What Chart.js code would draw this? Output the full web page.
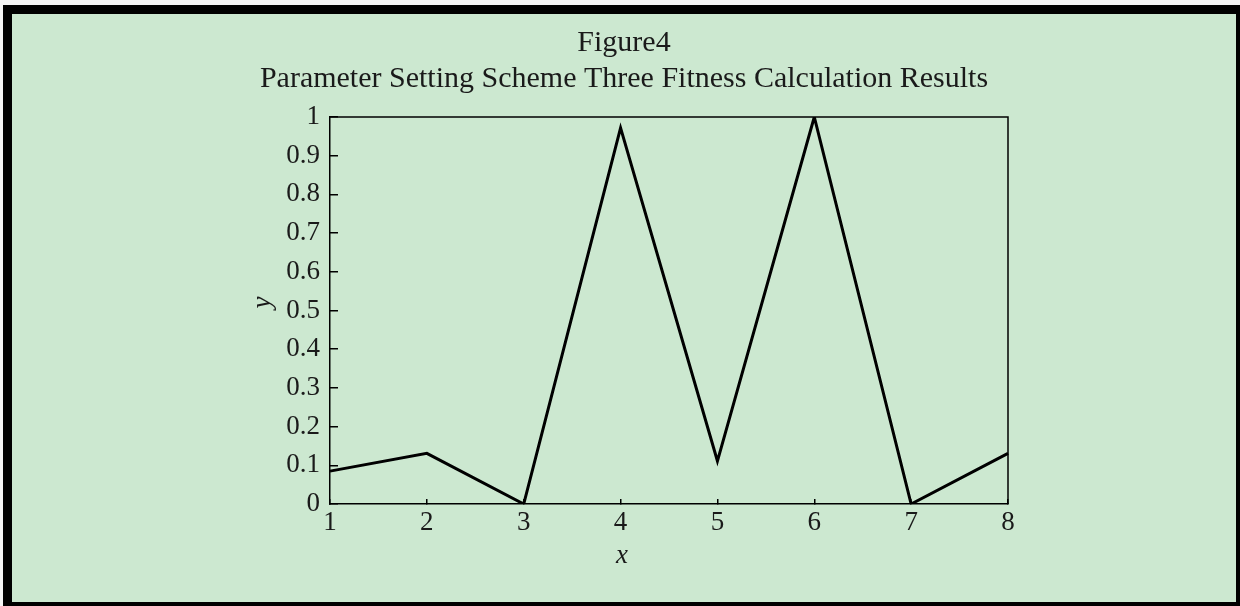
<!DOCTYPE html>
<html>
<head>
<meta charset="utf-8">
<title>Figure4</title>
<script src="https://cdn.jsdelivr.net/npm/chart.js@4/dist/chart.umd.min.js"></script>
<style>
  html, body { margin: 0; padding: 0; background: #f4f4f4; overflow: hidden; }
  #frame {
    position: absolute; left: 3px; top: 5px;
    width: 1242px; height: 606px;
    box-sizing: border-box;
    border: 9px solid #000;
    background: #cce8d0;
  }
  #myChart { position: absolute; left: 0; top: 0; }
</style>
</head>
<body>
<div id="frame"></div>
<canvas id="myChart" width="1240" height="606"></canvas>
<script>
// values
const xLabels = ['1', '2', '3', '4', '5', '6', '7', '8'];
const fitness = [0.085, 0.131, 0, 0.972, 0.111, 1.0, 0, 0.131];
const titleLines = ['Figure4', 'Parameter Setting Scheme Three Fitness Calculation Results'];
const xTitle = 'x';
const yTitle = 'y';

const ink = '#1a1a1a';
const serif = "'Liberation Serif', 'Times New Roman', serif";

// top + right edges of the axes box, plus the two axis names
const boxPlugin = {
  id: 'box',
  afterDraw(chart) {
    const { ctx, chartArea: a } = chart;
    ctx.save();
    ctx.strokeStyle = '#000';
    ctx.lineWidth = 1.5;
    ctx.beginPath();
    ctx.moveTo(a.left, a.top);
    ctx.lineTo(a.right, a.top);
    ctx.lineTo(a.right, a.bottom);
    ctx.stroke();

    ctx.fillStyle = ink;
    ctx.font = "italic 27px " + serif;
    ctx.textAlign = 'center';
    ctx.textBaseline = 'middle';
    ctx.fillText(xTitle, chart.width / 2 + 2, a.bottom + 52);

    ctx.translate(a.left - 67, (a.top + a.bottom) / 2 - 8);
    ctx.rotate(-Math.PI / 2);
    ctx.fillText(yTitle, 0, 0);
    ctx.restore();
  }
};

const config = {
  type: 'line',
  data: {
    labels: xLabels,
    datasets: [{
      data: fitness,
      borderColor: '#000',
      borderWidth: 3,
      pointRadius: 0,
      tension: 0
    }]
  },
  options: {
    responsive: false,
    animation: false,
    layout: { padding: { left: 240, right: 232, top: 0, bottom: 0 } },
    plugins: {
      legend: { display: false },
      tooltip: { enabled: false },
      title: {
        display: true,
        text: titleLines,
        color: ink,
        font: { family: serif, size: 30, weight: 'normal', lineHeight: 1.2 },
        padding: { top: 25, bottom: 20 }
      }
    },
    scales: {
      x: {
        type: 'category',
        offset: false,
        grid: { display: true, drawOnChartArea: false, drawTicks: true, tickLength: -5, color: '#000', lineWidth: 1.5 },
        border: { display: true, color: '#000', width: 1.5 },
        ticks: { color: ink, font: { family: serif, size: 27 }, padding: 8, maxRotation: 0, autoSkip: false },
        afterFit(scale) { scale.height = 102; }
      },
      y: {
        min: 0,
        max: 1,
        grid: { display: true, drawOnChartArea: false, drawTicks: true, tickLength: -8, color: '#000', lineWidth: 1.5 },
        border: { display: true, color: '#000', width: 1.5 },
        ticks: {
          stepSize: 0.1, color: ink, font: { family: serif, size: 27 }, padding: 18,
          callback: v => String(Math.round(v * 10) / 10)
        },
        afterFit(scale) { scale.width = 90; }
      }
    }
  },
  plugins: [boxPlugin]
};

new Chart(document.getElementById('myChart'), config);
</script>
</body>
</html>
